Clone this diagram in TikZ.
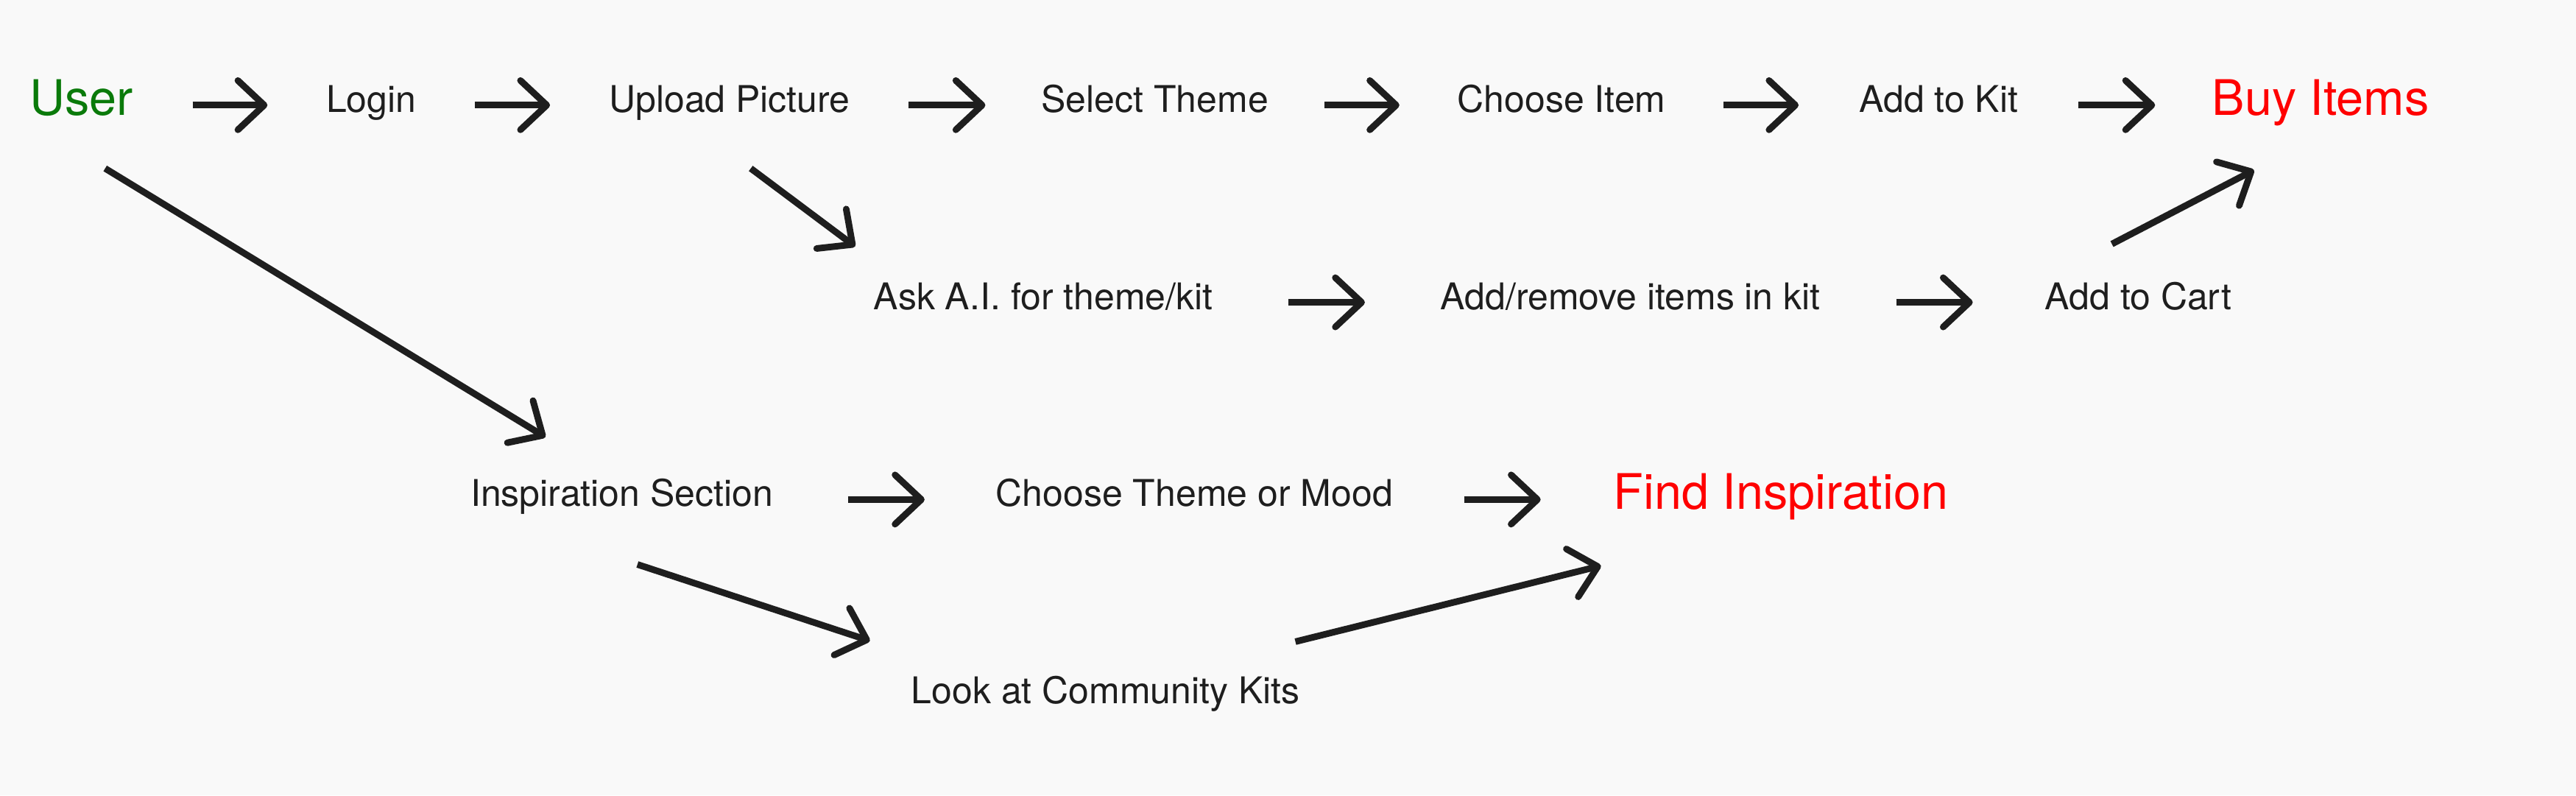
\documentclass[tikz,border=0pt]{standalone}
\usepackage{fontspec}
\setmainfont{TeX Gyre Heros}
\usetikzlibrary{arrows.meta}
\definecolor{bgc}{HTML}{F9F9F9}
\definecolor{ink}{HTML}{1E1E1E}
\definecolor{usergreen}{HTML}{0A7A0A}
\definecolor{goalred}{HTML}{FF0000}
\begin{document}
\begin{tikzpicture}[x=1pt,y=-1pt,
  lbl/.style={inner xsep=0pt, inner ysep=0pt, text=ink, font=\fontsize{22.4}{26}\selectfont, text height=16pt, text depth=7.4pt},
  big/.style={lbl, font=\fontsize{29.8}{34}\selectfont, text height=22pt, text depth=9.8pt},
  flow/.style={draw=ink, line width=4pt, line cap=butt, -{Straight Barb[length=16pt,width=30pt,round]}}]
\fill[bgc] (0,0) rectangle (1568,484);
\useasboundingbox (0,0) rectangle (1568,484);
% row 1
\node[big, text=usergreen, minimum width=135pt] (user) at (49.5,64) {User};
\node[lbl, minimum width=126pt] (login) at (226,64) {Login};
\node[lbl, minimum width=218pt] (upload) at (444,64) {Upload Picture};
\node[lbl, minimum width=206pt] (theme) at (703,64) {Select Theme};
\node[lbl, minimum width=197pt] (item) at (950.5,64) {Choose Item};
\node[lbl, minimum width=170pt] (kit) at (1180,64) {Add to Kit};
\node[big, text=goalred, minimum width=201pt] (buy) at (1412.5,64) {Buy Items};
% row 2
\node[lbl, minimum width=298pt] (ask) at (635,184) {Ask A.I. for theme/kit};
\node[lbl, minimum width=323pt] (edit) at (992.5,184) {Add/remove items in kit};
\node[lbl, minimum width=201pt] (cart) at (1301.5,184) {Add to Cart};
% row 3
\node[lbl, minimum width=275pt] (insp) at (378.5,304) {Inspiration Section};
\node[lbl, minimum width=328pt] (mood) at (727,304) {Choose Theme or Mood};
\node[big, text=goalred, minimum width=292pt] (find) at (1084,304) {Find Inspiration};
% row 4
\node[lbl] (look) at (673,424) {Look at Community Kits};
% horizontal connectors
\draw[flow] (user) -- (login);
\draw[flow] (login) -- (upload);
\draw[flow] (upload) -- (theme);
\draw[flow] (theme) -- (item);
\draw[flow] (item) -- (kit);
\draw[flow] (kit) -- (buy);
\draw[flow] (ask) -- (edit);
\draw[flow] (edit) -- (cart);
\draw[flow] (insp) -- (mood);
\draw[flow] (mood) -- (find);
% diagonal connectors
\draw[flow] ([shift={(14.5,38.5)}]user.center) -- ([shift={(-46.5,-38)}]insp.center);
\draw[flow] ([shift={(13,38.5)}]upload.center) -- ([shift={(-114.5,-34)}]ask.center);
\draw[flow] ([shift={(-16,-35.5)}]cart.center) -- ([shift={(-40.5,39.5)}]buy.center);
\draw[flow] ([shift={(9.5,39.5)}]insp.center) -- ([shift={(-143.5,-34)}]look.center);
\draw[flow] ([shift={(115.5,-33.5)}]look.center) -- ([shift={(-109.5,40.3)}]find.center);
\end{tikzpicture}
\end{document}
